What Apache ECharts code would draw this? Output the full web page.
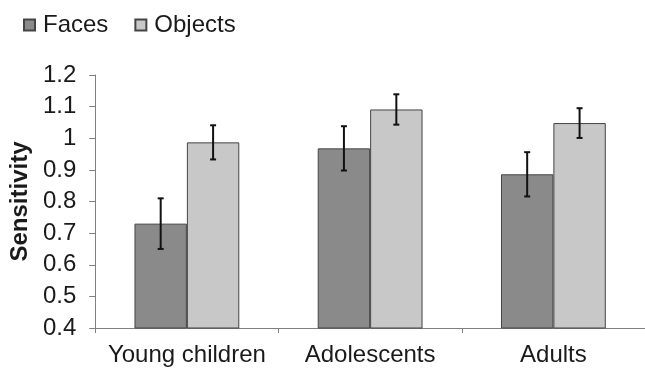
<!DOCTYPE html>
<html><head><meta charset="utf-8">
<script src="https://cdn.jsdelivr.net/npm/echarts@6/dist/echarts.min.js"></script>
<style>html,body{margin:0;padding:0;background:#fff}#c{width:645px;height:372px}</style>
</head><body><div id="c"></div>
<script>
var categories = ['Young children', 'Adolescents', 'Adults'];
var seriesNames = ['Faces', 'Objects'];
var faces = [0.73, 0.968, 0.886];
var objects = [0.987, 1.091, 1.048];
var facesErr = [0.08, 0.07, 0.07];
var objectsErr = [0.054, 0.048, 0.047];
var yTicks = { min: 0.4, max: 1.2, interval: 0.1 };

var BAR_FRAC = 0.286;
function errData(vals, errs) {
  return vals.map(function (v, i) { return [i, v - errs[i], v + errs[i]]; });
}
function errRender(sign) {
  return function (params, api) {
    var i = api.value(0);
    var lo = api.coord([i, api.value(1)]);
    var hi = api.coord([i, api.value(2)]);
    var cw = api.size([1, 0])[0];
    var x = lo[0] + sign * cw * BAR_FRAC / 2;
    var cap = 3;
    var st = { stroke: '#111', lineWidth: 2 };
    return {
      type: 'group',
      children: [
        { type: 'line', shape: { x1: x, y1: lo[1], x2: x, y2: hi[1] }, style: st },
        { type: 'line', shape: { x1: x - cap, y1: lo[1], x2: x + cap, y2: lo[1] }, style: st },
        { type: 'line', shape: { x1: x - cap, y1: hi[1], x2: x + cap, y2: hi[1] }, style: st }
      ]
    };
  };
}

var chart = echarts.init(document.getElementById('c'));
var font = 'Liberation Sans, Arial, sans-serif';
chart.setOption({
  animation: false,
  textStyle: { fontFamily: font },
  legend: {
    left: 18, top: 8,
    itemWidth: 11, itemHeight: 11, itemGap: 26,
    icon: 'rect',
    data: seriesNames,
    textStyle: { fontSize: 24, color: '#1a1a1a', fontFamily: font, padding: [0, 0, 0, 3] }
  },
  grid: { left: 91, top: 75, right: -3, bottom: 44 },
  xAxis: {
    type: 'category',
    data: categories,
    axisLine: { lineStyle: { color: '#808080', width: 1 } },
    axisTick: { show: true, length: 5, lineStyle: { color: '#808080' } },
    axisLabel: { fontSize: 24, color: '#1a1a1a', margin: 15, interval: 0, fontFamily: font },
    splitLine: { show: false }
  },
  yAxis: {
    type: 'value',
    min: yTicks.min, max: yTicks.max, interval: yTicks.interval,
    name: 'Sensitivity',
    nameLocation: 'middle',
    nameGap: 57,
    nameTextStyle: { fontSize: 24, fontWeight: 'bold', color: '#1a1a1a', fontFamily: font },
    axisLine: { show: true, lineStyle: { color: '#808080', width: 1 } },
    axisTick: { show: true, length: 6, lineStyle: { color: '#808080' } },
    axisLabel: { fontSize: 24, color: '#1a1a1a', margin: 19, fontFamily: font },
    splitLine: { show: false }
  },
  series: [
    {
      name: seriesNames[0], type: 'bar', data: faces,
      barWidth: (BAR_FRAC * 100) + '%', barGap: '0%',
      itemStyle: { color: '#8a8a8a', borderColor: '#444', borderWidth: 1 }
    },
    {
      name: seriesNames[1], type: 'bar', data: objects,
      barWidth: (BAR_FRAC * 100) + '%', barGap: '0%',
      itemStyle: { color: '#c8c8c8', borderColor: '#444', borderWidth: 1 }
    },
    {
      type: 'custom', renderItem: errRender(-1), data: errData(faces, facesErr),
      encode: { x: 0, y: [1, 2] }, z: 10
    },
    {
      type: 'custom', renderItem: errRender(1), data: errData(objects, objectsErr),
      encode: { x: 0, y: [1, 2] }, z: 10
    }
  ]
});
</script></body></html>
